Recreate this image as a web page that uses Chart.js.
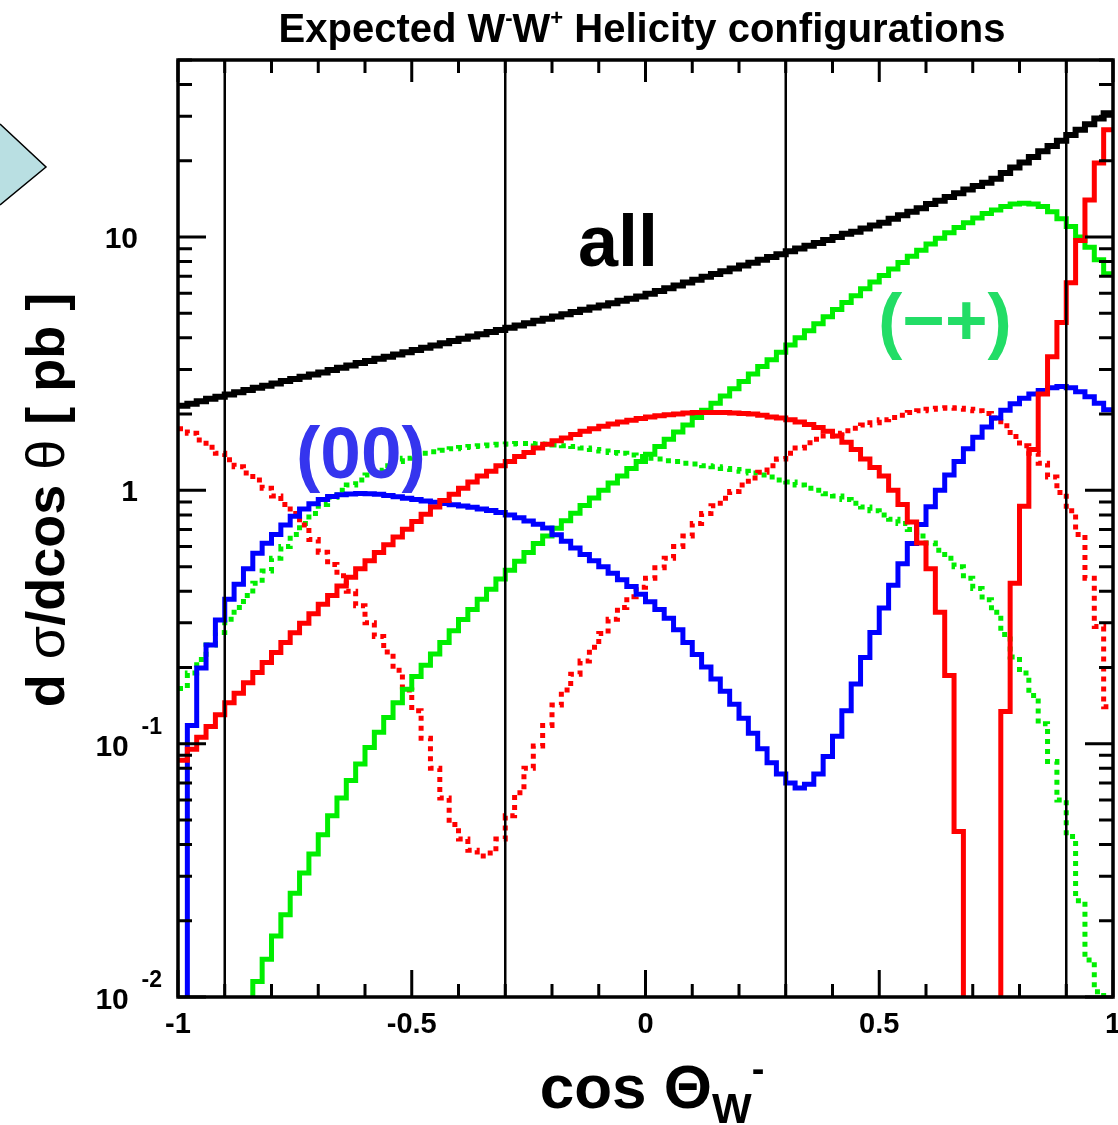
<!DOCTYPE html>
<html>
<head>
<meta charset="utf-8">
<script src="https://cdn.jsdelivr.net/npm/chart.js@4/dist/chart.umd.min.js"></script>
<style>
  html, body { margin: 0; padding: 0; background: #fff; overflow: hidden; }
  #wrap { position: relative; width: 1118px; height: 1125px; }
</style>
</head>
<body>
<div id="wrap"><canvas id="grafico" width="1118" height="1125"></canvas></div>
<script>
// histogram binning: 100 bins of 0.02 in cos theta, from -1 to 1
const binLow = -1;
const binWidth = 0.02;

// "all" helicities (black)
const allConfigs = [
  2.16, 2.20, 2.25, 2.30, 2.34, 2.39, 2.44, 2.49, 2.54, 2.59,
  2.64, 2.70, 2.75, 2.81, 2.87, 2.92, 2.99, 3.05, 3.11, 3.18,
  3.24, 3.31, 3.37, 3.44, 3.51, 3.58, 3.66, 3.73, 3.81, 3.89,
  3.97, 4.05, 4.13, 4.22, 4.30, 4.39, 4.48, 4.57, 4.67, 4.76,
  4.86, 4.96, 5.06, 5.16, 5.27, 5.37, 5.48, 5.60, 5.71, 5.83,
  5.97, 6.12, 6.28, 6.44, 6.61, 6.79, 6.97, 7.14, 7.33, 7.52,
  7.72, 7.92, 8.13, 8.34, 8.55, 8.79, 9.02, 9.25, 9.48, 9.73,
  10.0, 10.3, 10.5, 10.8, 11.1, 11.4, 11.8, 12.2, 12.6, 13.0,
  13.5, 13.9, 14.4, 14.9, 15.4, 15.9, 16.4, 17.0, 17.9, 18.8,
  19.7, 20.7, 21.8, 22.9, 24.0, 25.3, 26.5, 27.9, 29.4, 30.8
];

// (-+) green solid
const helMinusPlus = [
  0.0024, 0.0030, 0.0036, 0.0045, 0.0054, 0.0065, 0.0078, 0.0093, 0.0115, 0.0141,
  0.0174, 0.0211, 0.0257, 0.0309, 0.0367, 0.0437, 0.0519, 0.0610, 0.0716, 0.0832,
  0.0966, 0.111, 0.127, 0.145, 0.164, 0.184, 0.204, 0.226, 0.251, 0.279,
  0.309, 0.339, 0.372, 0.407, 0.447, 0.484, 0.525, 0.569, 0.617, 0.661,
  0.708, 0.759, 0.813, 0.871, 0.933, 1.00, 1.07, 1.14, 1.22, 1.30,
  1.39, 1.49, 1.59, 1.70, 1.81, 1.94, 2.07, 2.21, 2.36, 2.52,
  2.69, 2.88, 3.08, 3.28, 3.51, 3.75, 4.00, 4.27, 4.55, 4.85,
  5.18, 5.52, 5.87, 6.25, 6.64, 7.05, 7.48, 7.93, 8.39, 8.87,
  9.38, 9.89, 10.4, 10.9, 11.4, 11.9, 12.4, 12.8, 13.2, 13.5,
  13.6, 13.5, 13.2, 12.6, 11.8, 11.0, 10.0, 9.12, 8.13, 7.16
];

// (+-) red solid
const helPlusMinus = [
  0.086, 0.095, 0.106, 0.117, 0.130, 0.145, 0.158, 0.174, 0.191, 0.209,
  0.229, 0.251, 0.274, 0.299, 0.326, 0.355, 0.385, 0.419, 0.454, 0.490,
  0.527, 0.568, 0.610, 0.655, 0.703, 0.753, 0.805, 0.859, 0.912, 0.966,
  1.02, 1.08, 1.14, 1.19, 1.25, 1.30, 1.36, 1.41, 1.47, 1.52,
  1.57, 1.61, 1.66, 1.71, 1.75, 1.79, 1.83, 1.86, 1.89, 1.92,
  1.95, 1.97, 1.99, 2.00, 2.02, 2.03, 2.03, 2.03, 2.03, 2.02,
  2.01, 2.00, 1.98, 1.95, 1.93, 1.90, 1.86, 1.82, 1.77, 1.71,
  1.64, 1.55, 1.45, 1.33, 1.23, 1.14, 1.00, 0.88, 0.75, 0.62,
  0.49, 0.33, 0.186, 0.045, 0.001, 0.001, 0.001, 0.001, 0.134, 0.43,
  0.865, 1.45, 2.40, 3.37, 4.60, 6.60, 9.70, 14.0, 19.6, 26.5
];

// (00) blue solid
const helZeroZero = [
  0.005, 0.118, 0.199, 0.245, 0.308, 0.372, 0.426, 0.490, 0.565, 0.618,
  0.670, 0.730, 0.790, 0.845, 0.885, 0.920, 0.945, 0.960, 0.968, 0.972,
  0.970, 0.965, 0.955, 0.943, 0.930, 0.920, 0.908, 0.897, 0.888, 0.878,
  0.868, 0.857, 0.845, 0.832, 0.818, 0.800, 0.780, 0.757, 0.735, 0.711,
  0.668, 0.630, 0.592, 0.558, 0.528, 0.500, 0.471, 0.444, 0.417, 0.389,
  0.363, 0.339, 0.313, 0.282, 0.251, 0.225, 0.201, 0.180, 0.161, 0.143,
  0.126, 0.110, 0.0955, 0.0841, 0.0759, 0.0700, 0.0668, 0.0692, 0.0759, 0.0891,
  0.107, 0.135, 0.172, 0.219, 0.275, 0.343, 0.422, 0.513, 0.617, 0.733,
  0.861, 1.00, 1.15, 1.30, 1.46, 1.62, 1.78, 1.93, 2.07, 2.20,
  2.31, 2.40, 2.48, 2.54, 2.57, 2.54, 2.45, 2.34, 2.21, 2.08
];

// mixed configurations, green dotted
const dottedGreen = [
  0.165, 0.190, 0.215, 0.245, 0.275, 0.310, 0.345, 0.385, 0.430, 0.480,
  0.540, 0.600, 0.670, 0.740, 0.810, 0.880, 0.940, 1.00, 1.05, 1.10,
  1.15, 1.20, 1.25, 1.30, 1.34, 1.37, 1.40, 1.42, 1.44, 1.46,
  1.475, 1.49, 1.50, 1.51, 1.52, 1.525, 1.53, 1.53, 1.525, 1.52,
  1.51, 1.50, 1.49, 1.47, 1.45, 1.43, 1.41, 1.40, 1.38, 1.36,
  1.34, 1.33, 1.31, 1.30, 1.28, 1.27, 1.25, 1.24, 1.22, 1.21,
  1.19, 1.17, 1.15, 1.13, 1.10, 1.08, 1.05, 1.02, 1.00, 0.97,
  0.95, 0.92, 0.89, 0.86, 0.83, 0.80, 0.77, 0.74, 0.70, 0.66,
  0.62, 0.58, 0.54, 0.50, 0.45, 0.41, 0.37, 0.33, 0.27, 0.22,
  0.19, 0.155, 0.12, 0.085, 0.060, 0.043, 0.024, 0.014, 0.0105, 0.009
];

// mixed configurations, red dotted
const dottedRed = [
  1.75, 1.68, 1.58, 1.48, 1.40, 1.32, 1.24, 1.17, 1.10, 1.02,
  0.95, 0.88, 0.81, 0.73, 0.64, 0.57, 0.51, 0.46, 0.40, 0.35,
  0.30, 0.265, 0.23, 0.195, 0.163, 0.135, 0.105, 0.080, 0.061, 0.048,
  0.042, 0.038, 0.036, 0.037, 0.042, 0.052, 0.064, 0.080, 0.098, 0.118,
  0.142, 0.163, 0.188, 0.212, 0.240, 0.272, 0.310, 0.345, 0.380, 0.415,
  0.450, 0.495, 0.540, 0.600, 0.660, 0.740, 0.810, 0.870, 0.930, 0.990,
  1.05, 1.12, 1.18, 1.25, 1.33, 1.40, 1.47, 1.54, 1.59, 1.64,
  1.68, 1.72, 1.76, 1.81, 1.85, 1.90, 1.94, 1.98, 2.03, 2.06,
  2.09, 2.11, 2.12, 2.11, 2.09, 2.06, 2.01, 1.93, 1.80, 1.63,
  1.50, 1.40, 1.28, 1.13, 0.98, 0.83, 0.67, 0.45, 0.29, 0.14
];

// vertical cut lines
const cutPositions = [-0.9, -0.3, 0.3, 0.9];

// axis ticks
const xTickValues = [-1, -0.5, 0, 0.5, 1];
const xTickLabels = ['-1', '-0.5', '0', '0.5', '1'];
const yTickValues = [0.01, 0.1, 1, 10];
const yTickBase = ['10', '10', '1', '10'];
const yTickExp = ['-2', '-1', '', ''];

const yMin = 0.01, yMax = 50;
const FONT = '"Liberation Sans", Arial, Helvetica, sans-serif';

// histogram -> points at the low edge of each bin (+ closing point at x=1)
function histPoints(valores) {
  const pts = valores.map((v, i) => ({ x: binLow + i * binWidth, y: v }));
  pts.push({ x: binLow + valores.length * binWidth, y: valores[valores.length - 1] });
  return pts;
}

function histDataset(valores, color, dotted, width) {
  return {
    data: histPoints(valores),
    borderColor: color,
    borderWidth: width || 5,
    borderDash: dotted ? [5, 5] : [],
    borderCapStyle: 'butt',
    borderJoinStyle: 'miter',
    stepped: true,
    pointRadius: 0,
    fill: false,
    tension: 0
  };
}

const cutDatasets = cutPositions.map(c => ({
  data: [{ x: c, y: yMin }, { x: c, y: yMax }],
  borderColor: '#000',
  borderWidth: 2.5,
  pointRadius: 0,
  fill: false
}));

// draws rich text pieces [text, font, dy]
function drawRich(ctx, parts, x, y, align) {
  let w = 0;
  parts.forEach(p => { ctx.font = p[1]; w += ctx.measureText(p[0]).width; });
  let cx = align === 'center' ? x - w / 2 : (align === 'right' ? x - w : x);
  ctx.textAlign = 'left';
  parts.forEach(p => {
    ctx.font = p[1];
    ctx.fillText(p[0], cx, y + (p[2] || 0));
    cx += ctx.measureText(p[0]).width;
  });
  return w;
}

const marcoRoot = {
  id: 'marcoRoot',
  afterDatasetsDraw(chart) {
    const ctx = chart.ctx;
    const a = chart.chartArea;
    const sx = chart.scales.x, sy = chart.scales.y;
    ctx.save();
    ctx.strokeStyle = '#000';
    ctx.fillStyle = '#000';

    // frame
    ctx.lineWidth = 3.5;
    ctx.strokeRect(a.left, a.top, a.right - a.left, a.bottom - a.top);

    // x ticks (inside, bottom and top)
    ctx.lineWidth = 3;
    for (let k = -10; k <= 10; k++) {
      const v = k / 10;
      const px = sx.getPixelForValue(v);
      const major = k % 5 === 0;
      const lb = major ? 27 : 13;
      const lt = major ? 22 : 13;
      ctx.beginPath();
      ctx.moveTo(px, a.bottom); ctx.lineTo(px, a.bottom - lb);
      ctx.moveTo(px, a.top); ctx.lineTo(px, a.top + lt);
      ctx.stroke();
    }
    // y ticks (inside, left and right)
    yTickValues.forEach(d => {
      for (let m = 1; m <= 9; m++) {
        const v = d * m;
        if (v > yMax) break;
        const py = sy.getPixelForValue(v);
        const l = m === 1 ? 28 : 14;
        ctx.beginPath();
        ctx.moveTo(a.left, py); ctx.lineTo(a.left + l, py);
        ctx.moveTo(a.right, py); ctx.lineTo(a.right - l, py);
        ctx.stroke();
      }
    });

    // x tick labels
    ctx.textBaseline = 'alphabetic';
    ctx.textAlign = 'center';
    ctx.font = 'bold 29px ' + FONT;
    xTickValues.forEach((v, i) => {
      ctx.fillText(xTickLabels[i], sx.getPixelForValue(v), 1033);
    });
    // y tick labels
    yTickValues.forEach((v, i) => {
      const py = sy.getPixelForValue(v);
      if (yTickExp[i]) {
        drawRich(ctx, [[yTickBase[i], 'bold 30px ' + FONT, 0], ['  ' + yTickExp[i], 'bold 23px ' + FONT, -22]], 162, py + 12, 'right');
      } else {
        drawRich(ctx, [[yTickBase[i], 'bold 30px ' + FONT, 0]], 138, py + 11, 'right');
      }
    });

    // title
    drawRich(ctx, [
      ['Expected W', 'bold 40px ' + FONT, 0],
      ['-', 'bold 22px ' + FONT, -17],
      ['W', 'bold 40px ' + FONT, 0],
      ['+', 'bold 22px ' + FONT, -17],
      [' Helicity configurations', 'bold 40px ' + FONT, 0]
    ], 642, 42, 'center');

    // x axis title
    drawRich(ctx, [
      ['cos \u0398', 'bold 62px ' + FONT, 0],
      ['W', 'bold 42px ' + FONT, 15],
      ['-', 'bold 38px ' + FONT, -26]
    ], 652, 1108, 'center');

    // y axis title (rotated)
    ctx.save();
    ctx.translate(64, 500);
    ctx.rotate(-Math.PI / 2);
    drawRich(ctx, [
      ['d ', 'bold 54px ' + FONT, 0],
      ['\u03c3', '54px ' + FONT, 0],
      ['/dcos ', 'bold 54px ' + FONT, 0],
      ['\u03b8', '54px ' + FONT, 0],
      [' [ pb ]', 'bold 54px ' + FONT, 0]
    ], 0, 0, 'center');
    ctx.restore();

    // curve labels
    ctx.textAlign = 'left';
    ctx.font = 'bold 72px ' + FONT;
    ctx.fillStyle = '#000';
    ctx.fillText('all', 578, 266);
    ctx.fillStyle = '#22dd66';
    ctx.font = 'bold 73px ' + FONT;
    ctx.fillText('(\u2212+)', 878, 345);
    ctx.fillStyle = '#3535ee';
    ctx.fillText('(00)', 296, 478);

    // pointer shape at the left border
    ctx.fillStyle = '#b9dfe2';
    ctx.strokeStyle = '#000';
    ctx.lineWidth = 1.5;
    ctx.beginPath();
    ctx.moveTo(0, 124);
    ctx.lineTo(46, 167);
    ctx.lineTo(0, 205);
    ctx.closePath();
    ctx.fill();
    ctx.beginPath();
    ctx.moveTo(0, 124); ctx.lineTo(46, 167); ctx.lineTo(0, 205);
    ctx.stroke();

    ctx.restore();
  }
};

const ctx = document.getElementById('grafico').getContext('2d');
new Chart(ctx, {
  type: 'line',
  data: {
    datasets: [
      ...cutDatasets,
      histDataset(helPlusMinus, '#ff0000', false, 5),
      histDataset(allConfigs, '#000000', false, 6),
      histDataset(helZeroZero, '#0000ff', false, 5),
      histDataset(helMinusPlus, '#00ee00', false, 5),
      histDataset(dottedRed, '#ff0000', true, 5),
      histDataset(dottedGreen, '#00ee00', true, 5)
    ]
  },
  options: {
    responsive: false,
    animation: false,
    devicePixelRatio: 1,
    layout: { padding: { left: 178, right: 5, top: 60, bottom: 128 } },
    plugins: { legend: { display: false }, tooltip: { enabled: false } },
    scales: {
      x: { type: 'linear', min: -1, max: 1, display: false },
      y: { type: 'logarithmic', min: yMin, max: yMax, display: false }
    }
  },
  plugins: [marcoRoot]
});
</script>
</body>
</html>
